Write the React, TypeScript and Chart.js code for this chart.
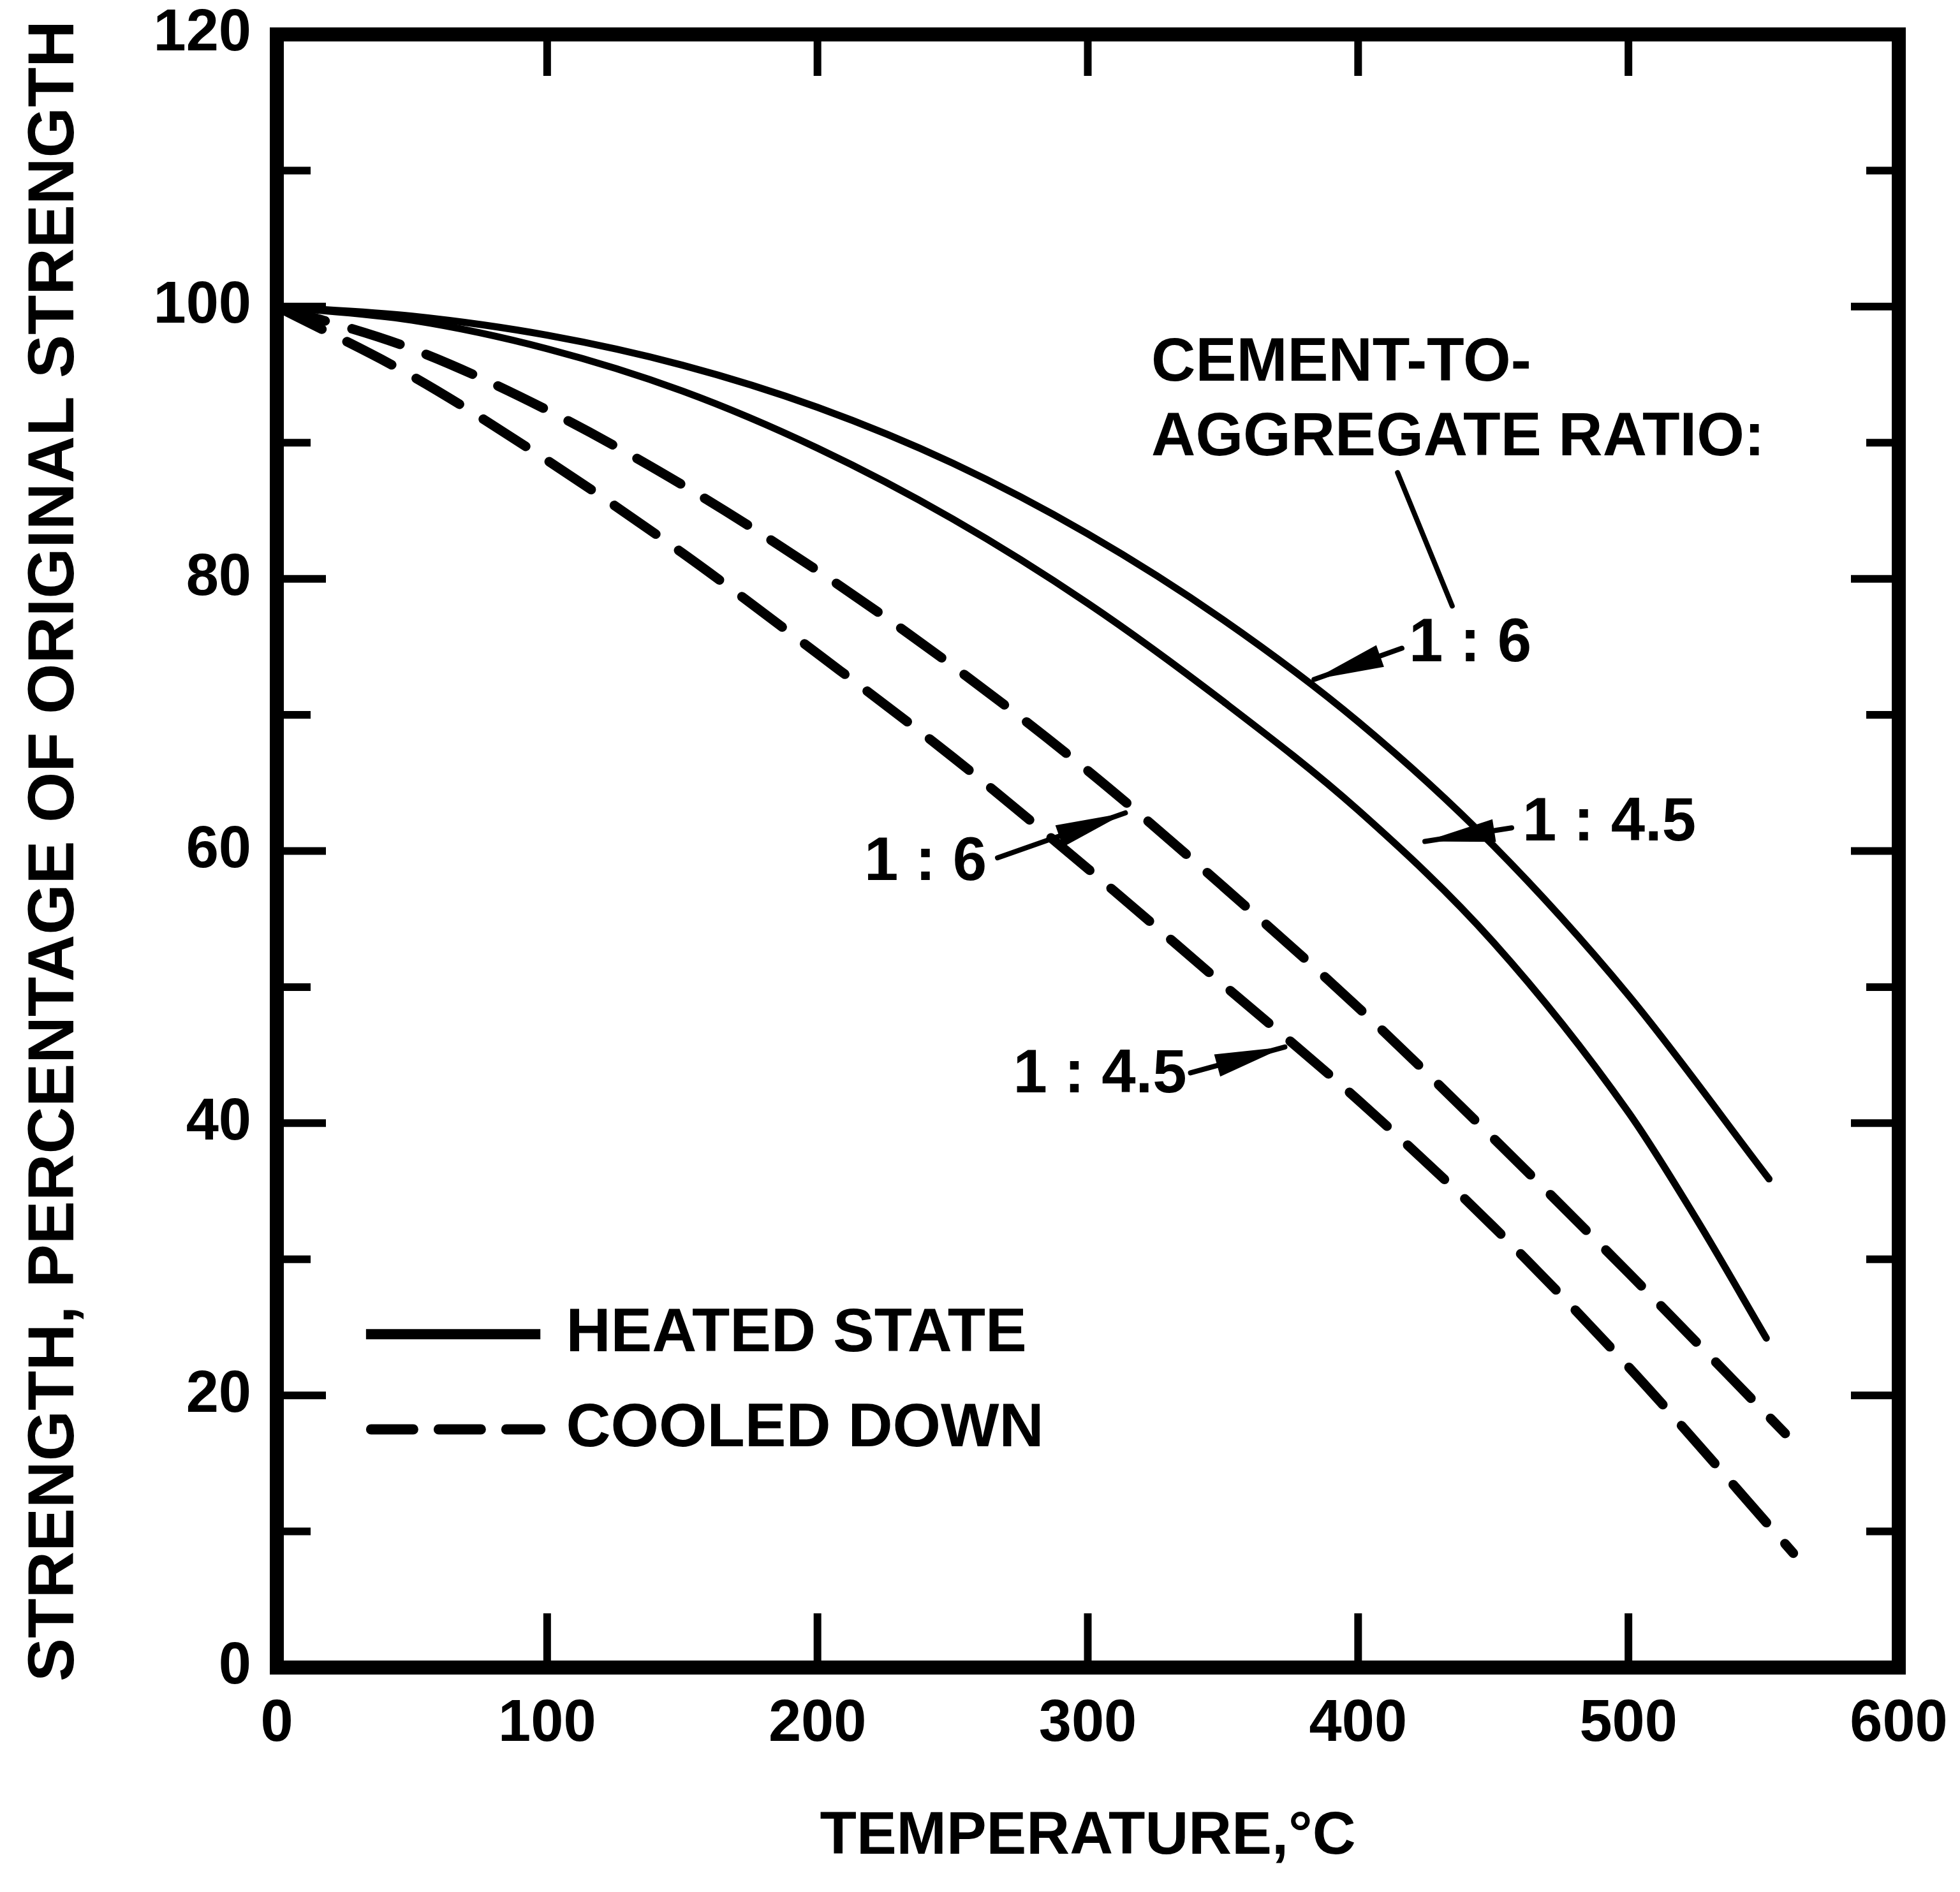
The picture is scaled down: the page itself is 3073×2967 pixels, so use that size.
import React, { useEffect, useRef } from 'react';
import { Chart, registerables } from 'chart.js';

Chart.register(...registerables);

// ---------- data ----------
const xTickValues = [0, 100, 200, 300, 400, 500, 600];
const yLabelValues = [0, 20, 40, 60, 80, 100, 120];

const heatedTemps16 = [0, 50, 100, 150, 200, 250, 300, 350, 400, 450, 500, 552];
const heated16 = [100, 99.3, 97.9, 95.7, 92.6, 88.5, 83.3, 77.0, 69.5, 60.4, 49.4, 35.9];

const heatedTemps45 = [0, 50, 100, 150, 200, 250, 300, 350, 400, 450, 500, 525, 551];
const heated45 = [100, 99.0, 96.9, 93.8, 89.6, 84.4, 78.2, 71.0, 63.0, 53.3, 40.8, 33.0, 24.2];

const cooledTemps16 = [0, 50, 100, 150, 200, 250, 300, 350, 400, 450, 500, 558];
const cooled16 = [100, 96.9, 92.4, 86.9, 80.6, 73.6, 65.9, 57.4, 48.5, 38.9, 29.0, 17.2];

const cooledTemps45 = [0, 50, 100, 150, 200, 250, 300, 350, 400, 450, 500, 561];
const cooled45 = [100, 94.9, 88.7, 81.9, 74.5, 66.9, 58.7, 50.2, 41.7, 32.4, 22.1, 8.4];

const legendLabels = ['HEATED STATE', 'COOLED DOWN'];

// annotation texts, anchored in data coordinates (temperature, strength)
const noteTexts = ['CEMENT-TO-', 'AGGREGATE RATIO:', '1 : 6', '1 : 4.5', '1 : 6', '1 : 4.5'];
const noteAnchors: [number, number][] = [
  [323.5, 95.8],
  [323.5, 90.3],
  [418.8, 75.2],
  [460.8, 62.0],
  [217.3, 59.1],
  [272.4, 43.5],
];
// arrows: [fromX, fromY, toX, toY, withHead]
const arrowDefs: [number, number, number, number, boolean][] = [
  [414.6, 87.8, 434.8, 78.0, false],
  [416.2, 74.9, 383.7, 72.6, true],
  [456.8, 61.7, 424.7, 60.7, true],
  [266.6, 59.5, 313.9, 62.8, true],
  [338.0, 43.7, 372.9, 45.6, true],
];

const FONT_FAMILY = '"Liberation Sans", Arial, Helvetica, sans-serif';
const FRAME_W = 22;
const DASH = [79, 44];

function pts(xs: number[], ys: number[]) {
  return xs.map((x, i) => ({ x, y: ys[i] }));
}

function fixSize(prop: 'width' | 'height', size: number) {
  return (s: any) => {
    s[prop] = size;
    s.paddingTop = 0;
    s.paddingBottom = 0;
    s.paddingLeft = 0;
    s.paddingRight = 0;
  };
}

const overlayPlugin = {
  id: 'overlay',
  afterDatasetsDraw(chart: any) {
    const { ctx, chartArea: a, scales } = chart;
    const xs = scales.x;
    const ys = scales.y;
    const half = FRAME_W / 2;
    ctx.save();
    ctx.strokeStyle = '#000';
    ctx.fillStyle = '#000';

    // inward ticks on all four sides
    ctx.lineWidth = 12;
    ctx.lineCap = 'butt';
    ys.ticks.forEach((t: any) => {
      if (t.value <= ys.min || t.value >= ys.max) return;
      const py = ys.getPixelForValue(t.value);
      const major = t.value % 20 === 0;
      const lenL = major ? 66 : 42;
      const lenR = major ? 64 : 40;
      ctx.beginPath();
      ctx.moveTo(a.left, py);
      ctx.lineTo(a.left + half + lenL, py);
      ctx.moveTo(a.right, py);
      ctx.lineTo(a.right - half - lenR, py);
      ctx.stroke();
    });
    xs.ticks.forEach((t: any) => {
      if (t.value <= xs.min || t.value >= xs.max) return;
      const px = xs.getPixelForValue(t.value);
      ctx.beginPath();
      ctx.moveTo(px, a.bottom);
      ctx.lineTo(px, a.bottom - half - 74);
      ctx.moveTo(px, a.top);
      ctx.lineTo(px, a.top + half + 54);
      ctx.stroke();
    });

    // frame
    ctx.lineWidth = FRAME_W;
    ctx.lineJoin = 'miter';
    ctx.strokeRect(a.left, a.top, a.right - a.left, a.bottom - a.top);

    // annotation texts
    ctx.font = `bold 96px ${FONT_FAMILY}`;
    ctx.textBaseline = 'middle';
    ctx.textAlign = 'left';
    noteTexts.forEach((txt, i) => {
      const [vx, vy] = noteAnchors[i];
      ctx.fillText(txt, xs.getPixelForValue(vx), ys.getPixelForValue(vy));
    });

    // arrows
    arrowDefs.forEach(([fx, fy, tx, ty, head]) => {
      const x1 = xs.getPixelForValue(fx);
      const y1 = ys.getPixelForValue(fy);
      const x2 = xs.getPixelForValue(tx);
      const y2 = ys.getPixelForValue(ty);
      ctx.lineWidth = 8;
      ctx.lineCap = 'round';
      ctx.beginPath();
      ctx.moveTo(x1, y1);
      ctx.lineTo(x2, y2);
      ctx.stroke();
      if (head) {
        const dx = x2 - x1;
        const dy = y2 - y1;
        const L = Math.hypot(dx, dy);
        const ux = dx / L;
        const uy = dy / L;
        const hl = 110;
        const hw = 18;
        const bx = x2 - ux * hl;
        const by = y2 - uy * hl;
        ctx.beginPath();
        ctx.moveTo(x2, y2);
        ctx.lineTo(bx - uy * hw, by + ux * hw);
        ctx.lineTo(bx + uy * hw, by - ux * hw);
        ctx.closePath();
        ctx.fill();
      }
    });

    // legend inside the plot
    const legendY = [24.5, 17.5];
    const sx1 = xs.getPixelForValue(33);
    const sx2 = xs.getPixelForValue(97.5);
    const tx = xs.getPixelForValue(107);
    legendLabels.forEach((lab, i) => {
      const py = ys.getPixelForValue(legendY[i]);
      ctx.lineWidth = 16;
      ctx.lineCap = i === 0 ? 'butt' : 'round';
      ctx.setLineDash(i === 0 ? [] : [66, 40]);
      ctx.beginPath();
      ctx.moveTo(sx1 + (i === 0 ? 0 : 8), py);
      ctx.lineTo(sx2, py);
      ctx.stroke();
      ctx.setLineDash([]);
      ctx.font = `bold 97px ${FONT_FAMILY}`;
      ctx.fillText(lab, tx, py);
    });

    ctx.restore();
  },
};

export default function App() {
  const canvasRef = useRef<HTMLCanvasElement | null>(null);

  useEffect(() => {
    document.body.style.margin = '0';
    document.body.style.overflow = 'hidden';
    document.body.style.background = '#fff';
    const canvas = canvasRef.current;
    if (!canvas) return;

    const solid = (data: any) => ({
      data,
      borderColor: '#000',
      borderWidth: 11,
      pointRadius: 0,
      cubicInterpolationMode: 'monotone' as const,
      fill: false,
      borderCapStyle: 'round' as const,
    });
    const dashed = (data: any) => ({
      data,
      borderColor: '#000',
      borderWidth: 15,
      borderDash: DASH,
      borderCapStyle: 'round' as const,
      pointRadius: 0,
      cubicInterpolationMode: 'monotone' as const,
      fill: false,
    });

    const tickFont = { family: FONT_FAMILY, size: 92, weight: 'bold' as const, lineHeight: 1 };

    const chart = new Chart(canvas, {
      type: 'line',
      data: {
        datasets: [
          { label: 'Heated 1:6', ...solid(pts(heatedTemps16, heated16)) },
          { label: 'Heated 1:4.5', ...solid(pts(heatedTemps45, heated45)) },
          { label: 'Cooled 1:6', ...dashed(pts(cooledTemps16, cooled16)) },
          { label: 'Cooled 1:4.5', ...dashed(pts(cooledTemps45, cooled45)) },
        ],
      },
      options: {
        animation: false,
        responsive: false,
        devicePixelRatio: 1,
        layout: { padding: 0 },
        plugins: { legend: { display: false }, tooltip: { enabled: false } },
        scales: {
          x: {
            type: 'linear',
            position: 'bottom',
            min: 0,
            max: 600,
            afterBuildTicks: (s: any) => {
              s.ticks = xTickValues.map((v) => ({ value: v }));
            },
            ticks: {
              font: tickFont,
              color: '#000',
              padding: 44,
              maxRotation: 0,
              autoSkip: false,
              callback: (v: any) => String(v),
            },
            grid: { display: false, drawTicks: false },
            border: { display: false },
            title: {
              display: true,
              text: 'TEMPERATURE,°C',
              color: '#000',
              font: { family: FONT_FAMILY, size: 94, weight: 'bold', lineHeight: 1 },
              padding: { top: 0, bottom: 39 },
            },
            afterFit: fixSize('height', 352),
          },
          x2: {
            type: 'linear',
            position: 'top',
            min: 0,
            max: 600,
            ticks: { display: false },
            grid: { display: false, drawTicks: false },
            border: { display: false },
            afterFit: fixSize('height', 54),
          },
          y: {
            type: 'linear',
            position: 'left',
            min: 0,
            max: 120,
            ticks: {
              stepSize: 10,
              font: tickFont,
              color: '#000',
              padding: 40,
              autoSkip: false,
              callback: (v: any) => (yLabelValues.includes(Number(v)) ? String(v) : ''),
            },
            grid: { display: false, drawTicks: false },
            border: { display: false },
            title: {
              display: true,
              text: 'STRENGTH, PERCENTAGE OF ORIGINAL STRENGTH',
              color: '#000',
              font: { family: FONT_FAMILY, size: 102, weight: 'bold', lineHeight: 1 },
              padding: { top: 36, bottom: 0 },
            },
            afterFit: fixSize('width', 434),
          },
          y2: {
            type: 'linear',
            position: 'right',
            min: 0,
            max: 120,
            ticks: { display: false },
            grid: { display: false, drawTicks: false },
            border: { display: false },
            afterFit: fixSize('width', 96),
          },
        },
      },
      plugins: [overlayPlugin],
    } as any);

    return () => {
      chart.destroy();
    };
  }, []);

  return (
    <canvas
      ref={canvasRef}
      width={3073}
      height={2967}
      style={{ display: 'block', width: '3073px', height: '2967px' }}
    />
  );
}
